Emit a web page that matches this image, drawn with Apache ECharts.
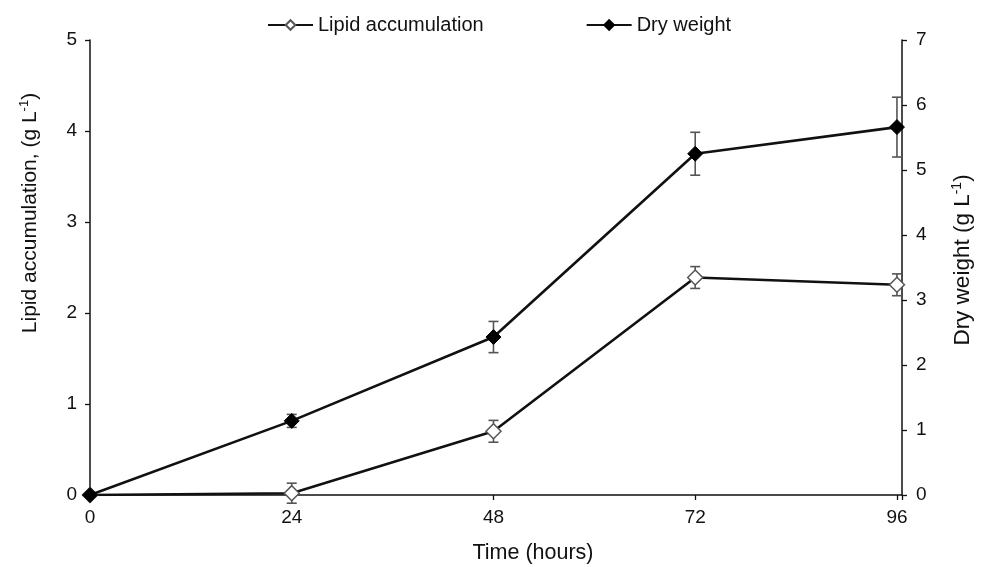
<!DOCTYPE html>
<html>
<head>
<meta charset="utf-8">
<script src="https://cdn.jsdelivr.net/npm/echarts@6/dist/echarts.min.js"></script>
<style>html,body{margin:0;padding:0;background:#fff;}#c{width:984px;height:567px;}</style>
</head>
<body>
<div id="c"></div>
<script>
var hours = [0, 24, 48, 72, 96];
var xTicks = [0, 24, 48, 72, 96];
var lipid = [0, 0.02, 0.70, 2.39, 2.31];
var lipidErr = [0, 0.11, 0.12, 0.12, 0.12];
var dryWeight = [0, 1.14, 2.43, 5.25, 5.66];
var dryErr = [0, 0.10, 0.24, 0.33, 0.46];

var FONT = 'Liberation Sans, Arial, sans-serif';
var chart = echarts.init(document.getElementById('c'));

function pairs(ys) { return hours.map(function (h, i) { return [h, ys[i]]; }); }
function errData(ys, es) { return hours.map(function (h, i) { return [h, ys[i] - es[i], ys[i] + es[i]]; }); }

function errRender(params, api) {
  var x = api.value(0), lo = api.value(1), hi = api.value(2);
  if (hi - lo <= 0) return null;
  var p1 = api.coord([x, hi]), p2 = api.coord([x, lo]);
  var w = 5;
  var st = { stroke: '#555', lineWidth: 1.6 };
  return {
    type: 'group',
    children: [
      { type: 'line', shape: { x1: p1[0], y1: p1[1], x2: p2[0], y2: p2[1] }, style: st },
      { type: 'line', shape: { x1: p1[0] - w, y1: p1[1], x2: p1[0] + w, y2: p1[1] }, style: st },
      { type: 'line', shape: { x1: p2[0] - w, y1: p2[1], x2: p2[0] + w, y2: p2[1] }, style: st }
    ]
  };
}

var axisCommon = {
  axisLine: { show: true, lineStyle: { color: '#111', width: 1.5 } },
  axisTick: { show: true, length: 5, lineStyle: { color: '#111', width: 1.3 } },
  splitLine: { show: false },
  axisLabel: { color: '#111', fontSize: 19, fontFamily: FONT, margin: 13 }
};

chart.setOption({
  animation: false,
  backgroundColor: '#fff',
  textStyle: { fontFamily: FONT },
  grid: { left: 90, right: 82, top: 40, bottom: 72, containLabel: false },
  legend: {
    left: 262, top: 10,
    itemWidth: 45, itemHeight: 12, itemGap: 102,
    textStyle: { fontSize: 20, color: '#111', fontFamily: FONT },
    data: ['Lipid accumulation', 'Dry weight']
  },
  xAxis: Object.assign({}, axisCommon, {
    type: 'value', min: 0, max: 96.6, interval: 24,
    axisLabel: Object.assign({}, axisCommon.axisLabel, {
      formatter: function (v) { return xTicks.indexOf(v) >= 0 ? String(v) : ''; }
    })
  }),
  yAxis: [
    Object.assign({}, axisCommon, { type: 'value', min: 0, max: 5, interval: 1, position: 'left' }),
    Object.assign({}, axisCommon, { type: 'value', min: 0, max: 7, interval: 1, position: 'right',
      axisLabel: Object.assign({}, axisCommon.axisLabel, { margin: 14 }) })
  ],
  graphic: [
    {
      type: 'text', x: 30, y: 213, rotation: Math.PI / 2,
      style: {
        text: '{a|Lipid accumulation, (g L}{s|-1}{a|)}',
        align: 'center', verticalAlign: 'middle', fill: '#111',
        rich: {
          a: { fontSize: 21, fontFamily: FONT, lineHeight: 24, fill: '#111' },
          s: { fontSize: 13, fontFamily: FONT, verticalAlign: 'top', fill: '#111' }
        }
      }
    },
    {
      type: 'text', x: 963, y: 260, rotation: Math.PI / 2,
      style: {
        text: '{a|Dry weight (g L}{s|-1}{a|)}',
        align: 'center', verticalAlign: 'middle', fill: '#111',
        rich: {
          a: { fontSize: 22.5, fontFamily: FONT, lineHeight: 26, fill: '#111' },
          s: { fontSize: 14, fontFamily: FONT, verticalAlign: 'top', fill: '#111' }
        }
      }
    },
    {
      type: 'text', x: 533, y: 553,
      style: { text: 'Time (hours)', fontSize: 21.5, fontFamily: FONT, fill: '#111', align: 'center', verticalAlign: 'middle' }
    }
  ],
  series: [
    {
      type: 'custom', name: 'lipidErr', renderItem: errRender, yAxisIndex: 0, z: 1,
      encode: { x: 0, y: [1, 2] }, data: errData(lipid, lipidErr), silent: true
    },
    {
      type: 'custom', name: 'dryErr', renderItem: errRender, yAxisIndex: 1, z: 1,
      encode: { x: 0, y: [1, 2] }, data: errData(dryWeight, dryErr), silent: true
    },
    {
      name: 'Lipid accumulation', type: 'line', yAxisIndex: 0, z: 3,
      data: pairs(lipid),
      symbol: 'diamond', symbolSize: 15, showAllSymbol: true,
      lineStyle: { color: '#111', width: 2.6 },
      itemStyle: { color: '#fff', borderColor: '#555', borderWidth: 1.5 }
    },
    {
      name: 'Dry weight', type: 'line', yAxisIndex: 1, z: 4,
      data: pairs(dryWeight),
      symbol: 'diamond', symbolSize: 15, showAllSymbol: true,
      lineStyle: { color: '#111', width: 2.6 },
      itemStyle: { color: '#000', borderColor: '#000', borderWidth: 1 }
    }
  ]
});
</script>
</body>
</html>
